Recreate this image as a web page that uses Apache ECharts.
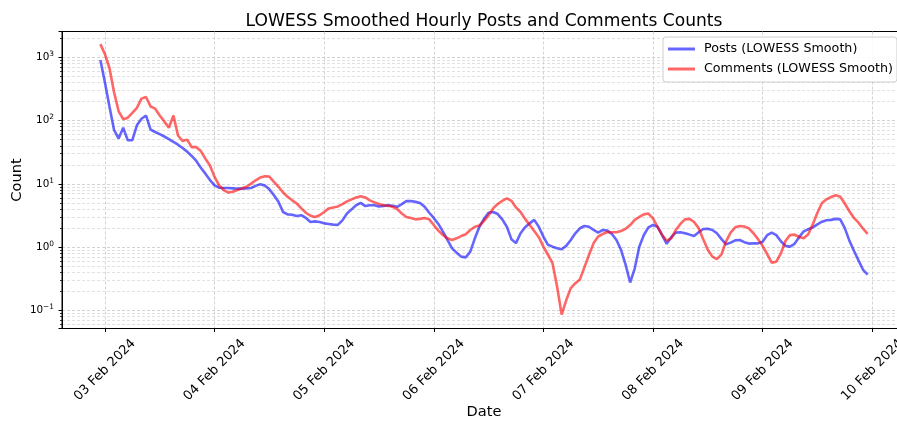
<!DOCTYPE html>
<html>
<head>
<meta charset="utf-8">
<script src="https://cdn.jsdelivr.net/npm/echarts@6/dist/echarts.min.js"></script>
<style>
  html, body { margin: 0; padding: 0; background: #fff; }
  #chart { width: 897px; height: 421px; }
</style>
</head>
<body>
<div id="chart"></div>
<script>
// ---- data (hourly LOWESS-smoothed counts, first point 2024-02-02 23:00 UTC) ----
const START_TIME = '2024-02-02T23:00:00Z';
const SERIES_NAMES = ['Posts (LOWESS Smooth)', 'Comments (LOWESS Smooth)'];
const posts = [
  902, 400, 165, 71, 52, 77, 49, 49, 84, 107,
  120, 72, 66, 61, 56, 51, 46, 41.6, 36.8, 32.3,
  27.6, 23, 18, 14.5, 11.5, 9.5, 8.7, 8.6, 8.6, 8.5,
  8.4, 8.4, 8.5, 8.6, 9.3, 9.9, 9.4, 8.2, 6.6, 5.2,
  3.6, 3.3, 3.26, 3.1, 3.2, 2.9, 2.5, 2.56, 2.5, 2.38,
  2.33, 2.27, 2.25, 2.65, 3.4, 3.96, 4.6, 5.0, 4.46, 4.6,
  4.6, 4.4, 4.5, 4.6, 4.5, 4.35, 4.8, 5.35, 5.35, 5.2,
  5.0, 4.35, 3.5, 2.9, 2.33, 1.76, 1.3, 0.96, 0.82, 0.71,
  0.69, 0.85, 1.38, 2.1, 2.8, 3.5, 3.6, 3.34, 2.75, 2.1,
  1.34, 1.16, 1.66, 2.06, 2.38, 2.7, 2.1, 1.47, 1.09, 1.02,
  0.96, 0.93, 1.05, 1.3, 1.66, 1.99, 2.16, 2.1, 1.87, 1.7,
  1.87, 1.83, 1.62, 1.3, 0.91, 0.53, 0.277, 0.46, 1.02, 1.56,
  2.06, 2.24, 2.1, 1.55, 1.13, 1.44, 1.7, 1.72, 1.66, 1.58,
  1.5, 1.72, 1.94, 1.96, 1.87, 1.66, 1.34, 1.11, 1.18, 1.28,
  1.3, 1.2, 1.14, 1.15, 1.15, 1.22, 1.55, 1.7, 1.55, 1.24,
  1.05, 1.02, 1.13, 1.44, 1.78, 1.92, 2.06, 2.3, 2.53, 2.66,
  2.7, 2.8, 2.75, 2.0, 1.27, 0.88, 0.62, 0.44, 0.37
];
const comments = [
  1612, 1120, 670, 280, 140, 105, 111, 132, 159, 222,
  236, 167, 154, 120, 97, 77, 120, 58, 47.5, 50,
  38, 38, 33, 25, 19.5, 12.9, 9.5, 8.0, 7.3, 7.5,
  8.0, 8.5, 9.0, 10.1, 11.4, 12.6, 13.2, 13.0, 10.8, 9.0,
  7.3, 6.25, 5.5, 4.9, 4.1, 3.5, 3.14, 3.0, 3.2, 3.6,
  4.1, 4.25, 4.4, 4.8, 5.3, 5.7, 6.1, 6.4, 6.1, 5.5,
  5.1, 4.8, 4.6, 4.5, 4.35, 4.0, 3.4, 3.0, 2.9, 2.75,
  2.8, 2.9, 2.75, 2.24, 1.83, 1.56, 1.38, 1.3, 1.38, 1.5,
  1.6, 1.87, 2.1, 2.2, 2.6, 3.2, 4.1, 4.8, 5.4, 5.9,
  5.4, 4.25, 3.6, 2.8, 2.24, 1.8, 1.44, 1.02, 0.76, 0.56,
  0.24, 0.086, 0.145, 0.226, 0.27, 0.31, 0.485, 0.76, 1.16, 1.47,
  1.62, 1.74, 1.72, 1.72, 1.8, 1.95, 2.24, 2.7, 3.0, 3.3,
  3.4, 2.86, 2.1, 1.56, 1.27, 1.38, 1.87, 2.33, 2.75, 2.8,
  2.5, 2.0, 1.34, 0.91, 0.71, 0.65, 0.77, 1.24, 1.7, 2.06,
  2.16, 2.12, 1.98, 1.66, 1.34, 1.05, 0.78, 0.57, 0.59, 0.8,
  1.25, 1.55, 1.58, 1.45, 1.38, 1.6, 2.3, 3.5, 5.0, 5.7,
  6.2, 6.6, 6.25, 4.9, 3.7, 2.9, 2.44, 1.96, 1.62
];
const X_MIN = '2024-02-02T14:36:00Z';
const X_MAX = '2024-02-10T07:24:00Z';
const Y_MIN = 0.052;
const Y_MAX = 2550;
const MONTHS = ['Jan','Feb','Mar','Apr','May','Jun','Jul','Aug','Sep','Oct','Nov','Dec'];

// ---- build ----
const HOUR = 3600 * 1000, DAY = 24 * HOUR;
const t0 = Date.parse(START_TIME);
const times = posts.map((_, i) => t0 + i * HOUR);
const FONT = 'DejaVu Sans';

const chart = echarts.init(document.getElementById('chart'), null, {renderer: 'canvas'});
const gridLine = {show: true, showMinLine: false, showMaxLine: false,
  lineStyle: {color: '#c8c8c8', width: 0.8, type: [3, 2]}};

chart.setOption({
  animation: false,
  useUTC: true,
  backgroundColor: '#fff',
  textStyle: {fontFamily: FONT},
  title: {
    text: 'LOWESS Smoothed Hourly Posts and Comments Counts',
    left: 479, top: 8, textAlign: 'center',
    textStyle: {fontSize: 17.1, fontWeight: 'normal', color: '#000', fontFamily: FONT}
  },
  legend: {
    orient: 'vertical',
    left: 663, top: 37,
    padding: [5, 4, 6, 5],
    itemGap: 6,
    itemWidth: 27, itemHeight: 3,
    icon: 'rect',
    backgroundColor: 'rgba(255,255,255,0.85)',
    borderColor: '#d0d0d0', borderWidth: 1, borderRadius: 3,
    textStyle: {fontSize: 12.7, color: '#000', fontFamily: FONT, lineHeight: 14, padding: [0, 0, 0, 4]},
    data: [
      {name: SERIES_NAMES[0], itemStyle: {color: '#6666ff'}},
      {name: SERIES_NAMES[1], itemStyle: {color: '#ff6666'}}
    ]
  },
  grid: {left: 62, right: -9, top: 31.5, bottom: 92.5, show: true, borderColor: '#000', borderWidth: 1,
         containLabel: false, outerBoundsMode: 'none'},
  xAxis: {
    type: 'time',
    min: Date.parse(X_MIN), max: Date.parse(X_MAX),
    minInterval: DAY, maxInterval: DAY,
    axisLine: {show: true, lineStyle: {color: '#000', width: 1}},
    axisTick: {show: true, length: 3.5, lineStyle: {color: '#000', width: 1}},
    axisLabel: {
      rotate: 45, align: 'center', verticalAlign: 'middle', margin: 41.5,
      fontSize: 13, color: '#000', fontFamily: FONT,
      showMinLabel: false, showMaxLabel: false, hideOverlap: false,
      formatter: function (v) {
        const d = new Date(v);
        if (d.getUTCHours() !== 0 || d.getUTCMinutes() !== 0) return '';
        const dd = String(d.getUTCDate()).padStart(2, '0');
        return dd + ' ' + MONTHS[d.getUTCMonth()] + ' ' + d.getUTCFullYear();
      }
    },
    splitLine: gridLine,
    name: 'Date', nameLocation: 'middle', nameGap: 76, nameMoveOverlap: false,
    nameTextStyle: {fontSize: 14.6, color: '#000', fontFamily: FONT}
  },
  yAxis: {
    type: 'log', logBase: 10,
    min: Y_MIN, max: Y_MAX,
    axisLine: {show: true, lineStyle: {color: '#000', width: 1}},
    axisTick: {show: true, length: 3.5, lineStyle: {color: '#000', width: 1}},
    minorTick: {show: true, splitNumber: 9, length: 2, lineStyle: {color: '#000', width: 0.8}},
    splitLine: gridLine,
    minorSplitLine: {show: true, lineStyle: {color: '#d4d4d4', width: 0.7, type: [3, 2]}},
    axisLabel: {
      margin: 8, color: '#000', fontSize: 10.4, fontFamily: FONT,
      showMinLabel: false, showMaxLabel: false,
      formatter: function (v) {
        const e = Math.round(Math.log10(v));
        if (Math.abs(Math.log10(v) - e) > 1e-6) return '';
        return '{b|10}{s|' + String(e).replace('-', '\u2212') + '}';
      },
      rich: {
        b: {fontSize: 10.4, fontFamily: FONT, color: '#000'},
        s: {fontSize: 7.4, fontFamily: FONT, color: '#000', padding: [0, 0, 6, 0]}
      }
    },
    name: 'Count', nameLocation: 'middle', nameGap: 37, nameMoveOverlap: false,
    nameTextStyle: {fontSize: 14.6, color: '#000', fontFamily: FONT}
  },
  series: [
    {
      name: SERIES_NAMES[0], type: 'line', showSymbol: false, symbol: 'none',
      data: times.map((t, i) => [t, posts[i]]),
      lineStyle: {color: '#0000ff', width: 2.6, opacity: 0.6},
      itemStyle: {color: '#6666ff'}
    },
    {
      name: SERIES_NAMES[1], type: 'line', showSymbol: false, symbol: 'none',
      data: times.map((t, i) => [t, comments[i]]),
      lineStyle: {color: '#ff0000', width: 2.6, opacity: 0.6},
      itemStyle: {color: '#ff6666'}
    }
  ]
});
</script>
</body>
</html>
